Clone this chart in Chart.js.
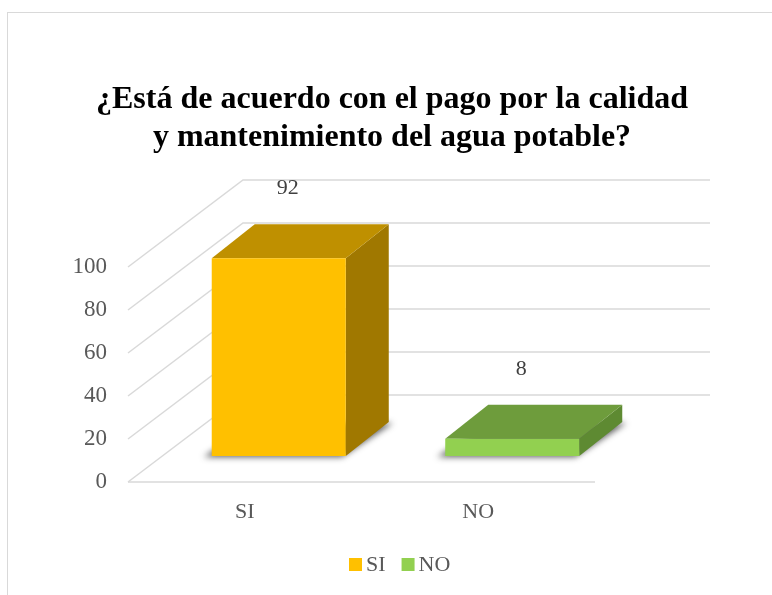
<!DOCTYPE html>
<html>
<head>
<meta charset="utf-8">
<script src="https://cdn.jsdelivr.net/npm/chart.js@4"></script>
<style>
  html, body { margin: 0; padding: 0; background: #fff; }
  #wrap { width: 772px; height: 595px; position: relative; }
</style>
</head>
<body>
<div id="wrap"><canvas id="chart" width="772" height="595"></canvas></div>
<script>
// --- data ---
const categories = ["SI", "NO"];
const values = [92, 8];
const yTicks = [0, 20, 40, 60, 80, 100];
const titleLines = ["¿Está de acuerdo con el pago por la calidad", "y mantenimiento del agua potable?"];

// colours: front / top / side
const frontColors = ["#FFC000", "#92D050"];
const topColors = ["#BF9000", "#6E9C3C"];
const sideColors = ["#A07800", "#5E8A32"];

const serif = "'Liberation Serif', 'Times New Roman', serif";
const gridColor = "#D9D9D9";
const textGray = "#595959";

// 3D projection offsets
const wallDepth = { dx: 115, dy: -87 };   // floor / side wall depth
const barShift = { dx: 34, dy: -26 };     // where the bars sit in the depth
const barDepth = { dx: 43, dy: -34 };     // depth of each bar

// --- 3D drawing plugin ---
const threeD = {
  id: "threeD",
  beforeDraw(chart) {
    const ctx = chart.ctx;
    ctx.save();
    ctx.fillStyle = "#fff";
    ctx.fillRect(0, 0, chart.width, chart.height);
    ctx.strokeStyle = "#D9D9D9";
    ctx.lineWidth = 1;
    ctx.strokeRect(7.5, 12.5, chart.width + 20, chart.height + 20);

    // title
    ctx.fillStyle = "#000";
    ctx.font = "bold 32px " + serif;
    ctx.textAlign = "center";
    ctx.textBaseline = "alphabetic";
    titleLines.forEach((t, i) => ctx.fillText(t, 392, 108 + i * 38));

    // legend
    ctx.font = "22px " + serif;
    ctx.textAlign = "left";
    ctx.textBaseline = "middle";
    let lx = 349;
    categories.forEach((c, i) => {
      ctx.fillStyle = frontColors[i];
      ctx.fillRect(lx, 558, 13, 13);
      ctx.fillStyle = textGray;
      ctx.fillText(c, lx + 17, 565);
      lx += 17 + ctx.measureText(c).width + 16;
    });
    ctx.restore();
  },
  beforeDatasetsDraw(chart) {
    const ctx = chart.ctx;
    const y = chart.scales.y;
    const { left, right } = chart.chartArea;
    ctx.save();
    ctx.strokeStyle = gridColor;
    ctx.lineWidth = 1.5;
    yTicks.forEach(v => {
      const py = y.getPixelForValue(v);
      ctx.beginPath();
      ctx.moveTo(left, py);
      ctx.lineTo(left + wallDepth.dx, py + wallDepth.dy);
      ctx.lineTo(right + wallDepth.dx, py + wallDepth.dy);
      ctx.stroke();
    });
    const p0 = y.getPixelForValue(0);
    ctx.beginPath();
    ctx.moveTo(left, p0);
    ctx.lineTo(right, p0);
    ctx.stroke();

    // move into the depth of the chart; bars front faces are drawn by Chart.js
    ctx.translate(barShift.dx, barShift.dy);
    const meta = chart.getDatasetMeta(0);
    meta.data.forEach((bar, i) => {
      const { x, y: top, base, width } = bar.getProps(["x", "y", "base", "width"], true);
      const l = x - width / 2, r = x + width / 2;
      // shadow
      ctx.save();
      ctx.filter = "blur(3px)";
      ctx.fillStyle = "rgba(40,40,40,0.75)";
      ctx.beginPath();
      ctx.moveTo(l - 8, base + 1);
      ctx.lineTo(r - 4, base + 1);
      ctx.lineTo(r + barDepth.dx + 4, base + barDepth.dy + 1);
      ctx.lineTo(l + barDepth.dx, base + barDepth.dy + 1);
      ctx.closePath();
      ctx.fill();
      ctx.restore();
      // side
      ctx.fillStyle = sideColors[i];
      ctx.beginPath();
      ctx.moveTo(r, top);
      ctx.lineTo(r + barDepth.dx, top + barDepth.dy);
      ctx.lineTo(r + barDepth.dx, base + barDepth.dy);
      ctx.lineTo(r, base);
      ctx.closePath();
      ctx.fill();
      // top
      ctx.fillStyle = topColors[i];
      ctx.beginPath();
      ctx.moveTo(l, top);
      ctx.lineTo(r, top);
      ctx.lineTo(r + barDepth.dx, top + barDepth.dy);
      ctx.lineTo(l + barDepth.dx, top + barDepth.dy);
      ctx.closePath();
      ctx.fill();
    });
  },
  afterDatasetsDraw(chart) {
    const ctx = chart.ctx;
    ctx.restore();
    ctx.save();
    ctx.font = "22px " + serif;
    ctx.fillStyle = "#404040";
    ctx.textAlign = "center";
    ctx.textBaseline = "middle";
    chart.getDatasetMeta(0).data.forEach((bar, i) => {
      ctx.fillText(String(values[i]), bar.x + barShift.dx + 9, bar.y + barShift.dy - 70);
    });
    ctx.restore();
  }
};

new Chart(document.getElementById("chart").getContext("2d"), {
  type: "bar",
  data: {
    labels: categories,
    datasets: [{
      label: "Respuestas",
      data: values,
      backgroundColor: frontColors,
      borderWidth: 0,
      barPercentage: 0.574,
      categoryPercentage: 1
    }]
  },
  options: {
    responsive: false,
    animation: false,
    layout: { padding: { left: 0, right: 177, top: 267, bottom: 53 } },
    plugins: {
      tooltip: { enabled: false },
      title: { display: false },
      legend: { display: false }
    },
    scales: {
      x: {
        grid: { display: false, drawTicks: false },
        border: { display: false },
        ticks: { font: { family: serif, size: 22 }, color: textGray, padding: 17 },
        afterFit: s => { s.height = 60; }
      },
      y: {
        min: 0, max: 100,
        grid: { display: false, drawTicks: false },
        border: { display: false },
        ticks: { stepSize: 20, font: { family: serif, size: 23 }, color: textGray, padding: 21 },
        afterFit: s => { s.width = 128; }
      }
    }
  },
  plugins: [threeD]
});
</script>
</body>
</html>
